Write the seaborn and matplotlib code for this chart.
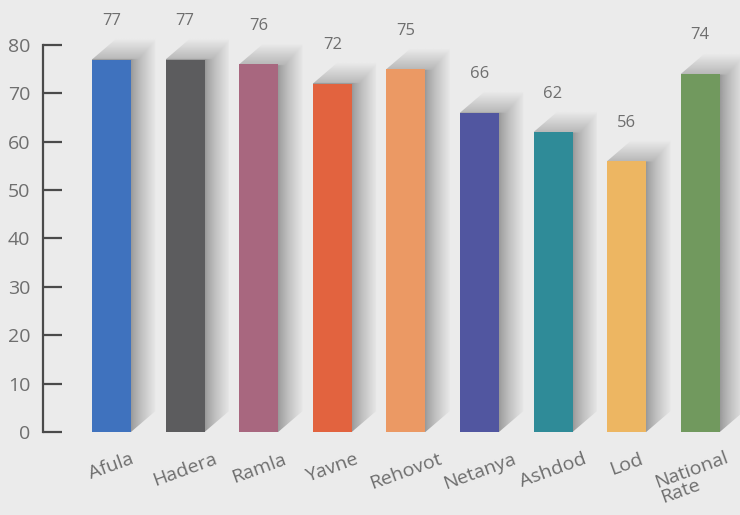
import numpy as np
import seaborn as sns
from matplotlib import pyplot as plt
from matplotlib.patches import Polygon
from matplotlib.transforms import ScaledTranslation

cities = ["Afula", "Hadera", "Ramla", "Yavne", "Rehovot", "Netanya", "Ashdod", "Lod", "National\nRate"]
rates = [77, 77, 76, 72, 75, 66, 62, 56, 74]
colors = ["#3f72be", "#5c5c5e", "#a8677f", "#e2633f", "#eb9964",
          "#5156a0", "#2f8b98", "#edb662", "#71995e"]
y_ticks = list(range(0, 81, 10))

BG = "#ebebeb"
INK = "#4a4a4a"
TEXT = "#6e6e6e"

sns.set_style("white")
plt.rcParams["font.family"] = ["Open Sans", "DejaVu Sans"]

fig = plt.figure(figsize=(7.4, 5.15), dpi=100, facecolor=BG)
ax = fig.add_axes([43 / 740, 83 / 515, 697 / 740, 432 / 515])
ax.set_facecolor(BG)

sns.barplot(x=cities, y=rates, hue=cities, palette=colors, legend=False,
            width=0.53, saturation=1, ax=ax, zorder=3, edgecolor="none", linewidth=0)

# soft 3d-ish shadow behind every bar
dx, dy = 0.33, 4.3
for bar in list(ax.patches):
    x0, x1 = bar.get_x(), bar.get_x() + bar.get_width()
    h = bar.get_height()
    X, Y = np.meshgrid(np.linspace(x0, x1 + dx, 200), np.linspace(0, h + dy, 300))
    vx = 0.60 + 0.32 * np.clip((X - x1) / (dx * 1.05), 0, 1) ** 0.8
    vy = np.where(Y > h, 0.72 + 0.20 * np.clip((Y - h) / dy, 0, 1), 0)
    img = ax.imshow(np.maximum(vx, vy), cmap="gray", vmin=0, vmax=1, origin="lower",
                    extent=(x0, x1 + dx, 0, h + dy), aspect="auto", zorder=1,
                    interpolation="bilinear")
    poly = Polygon([(x0, 0), (x0, h), (x0 + dx, h + dy), (x1 + dx, h + dy),
                    (x1 + dx, dy), (x1, 0)], closed=True, transform=ax.transData)
    img.set_clip_path(poly)

for cont in ax.containers:
    ax.bar_label(cont, padding=22, color=TEXT, fontsize=12)

ax.set_xlim(-0.93, 8.54)
ax.set_ylim(0, 89.3)
ax.set_yticks(y_ticks)
ax.set_xlabel("")
ax.set_ylabel("")

sns.despine(ax=ax, bottom=True)
ax.spines["left"].set_bounds(0, 80)
ax.spines["left"].set_color(INK)
ax.spines["left"].set_linewidth(1.6)

ax.tick_params(axis="y", left=True, direction="in", length=14, width=1.6, color=INK,
               labelcolor=TEXT, labelsize=14, pad=9)
ax.tick_params(axis="x", bottom=False, length=0, labelcolor=TEXT, labelsize=14, pad=13,
               labelrotation=20)
for lab in ax.get_xticklabels():
    lab.set_ha("center")
    lab.set_multialignment("left")
    lab.set_linespacing(0.9)
# last label sits against the right edge, nudge it in a little
last = ax.get_xticklabels()[-1]
last.set_transform(last.get_transform() + ScaledTranslation(-6 / 100, 2 / 100, fig.dpi_scale_trans))

fig.savefig("out.png", dpi=100, facecolor=BG)
